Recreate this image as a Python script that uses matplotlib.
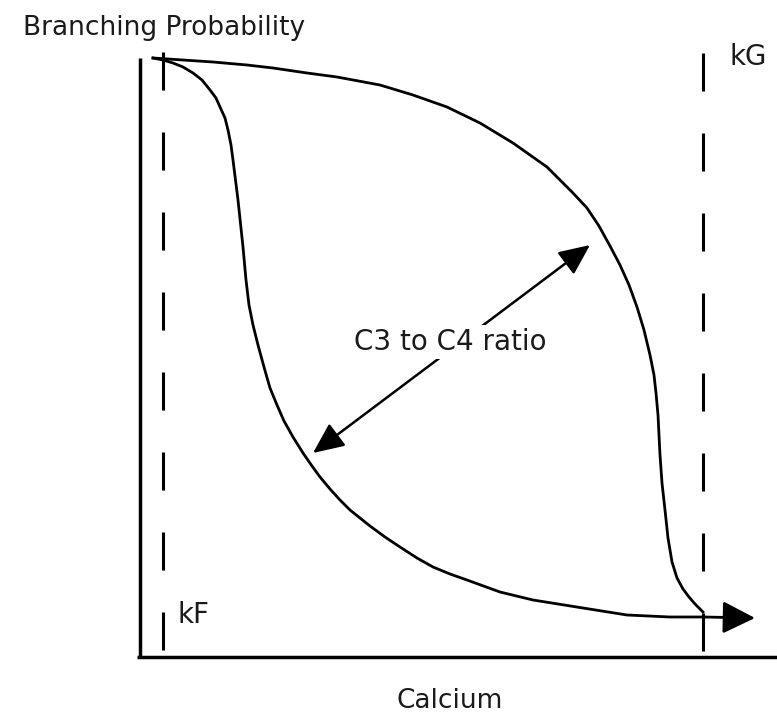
import numpy as np
import matplotlib
matplotlib.use('Agg')
import matplotlib.pyplot as plt

plt.rcParams['font.family'] = ['DejaVu Sans']
plt.rcParams['lines.scale_dashes'] = False

## pontos das duas curvas (coordenadas do desenho, y cresce para baixo)
upper_x = [153, 213, 247, 273, 307, 337, 380, 413, 447, 480, 513, 547, 573, 587,
           599, 610, 620, 629, 637, 644, 650, 654, 656, 658, 659, 660, 662, 665,
           668, 672, 677, 683, 689, 695, 703]
upper_y = [58, 62, 65, 68, 73, 77, 85, 95, 107, 123, 143, 167, 193, 208,
           226, 246, 265, 285, 307, 330, 355, 375, 393, 415, 435, 455, 483, 510,
           538, 562, 578, 589, 597, 604, 612]

lower_x = [153, 163, 173, 183, 193, 202, 210, 216, 220, 225, 228, 231, 233, 238,
           243, 246, 249, 253, 258, 264, 270, 277, 284, 293, 303, 312, 320, 330,
           340, 350, 360, 370, 385, 400, 417, 433, 450, 467, 500, 533, 583, 627,
           670, 703]
lower_y = [58, 60, 63, 67, 73, 80, 90, 98, 107, 118, 130, 145, 160, 200,
           247, 280, 305, 325, 345, 367, 388, 405, 421, 437, 453, 466, 477, 489,
           500, 510, 518, 526, 537, 547, 558, 567, 574, 580, 592, 600, 608, 615,
           617, 617]

## linhas tracejadas kF e kG
kF_x, kF_y = [163, 163], [52, 650]
kG_x, kG_y = [703, 703], [53, 657]

## eixos
yaxis_x, yaxis_y = [140, 140], [58, 657]
xaxis_x, xaxis_y = [137, 777], [657, 657]

## seta final e seta dupla
tail_start, tail_end = (703, 617), (755, 618)
ratio_a, ratio_b = (313, 453), (590, 245)

labels = {'ylabel': 'Branching Probability', 'xlabel': 'Calcium',
          'ratio': 'C3 to C4 ratio', 'kF': 'kF', 'kG': 'kG'}

fig = plt.figure(figsize=(7.77, 7.13), dpi=100)
ax = fig.add_axes([0, 0, 1, 1])
ax.set_xlim(0, 777)
ax.set_ylim(713, 0)
ax.axis('off')

ax.plot(yaxis_x, yaxis_y, color='k', lw=2.5, solid_capstyle='butt')
ax.plot(xaxis_x, xaxis_y, color='k', lw=2.5, solid_capstyle='butt')

for xs, ys in [(kF_x, kF_y), (kG_x, kG_y)]:
    ax.plot(xs, ys, color='k', lw=2.2, dashes=(27.4, 30.2))

ax.plot(upper_x, upper_y, color='k', lw=2.0, solid_joinstyle='round')
ax.plot(lower_x, lower_y, color='k', lw=2.0, solid_joinstyle='round')

ax.annotate('', xy=tail_end, xytext=tail_start,
            arrowprops=dict(arrowstyle='-|>,head_length=1.0,head_width=0.5',
                            mutation_scale=20, lw=2.0, color='k',
                            shrinkA=0, shrinkB=0))

ax.annotate('', xy=ratio_b, xytext=ratio_a,
            arrowprops=dict(arrowstyle='<|-|>,head_length=1.0,head_width=0.45',
                            mutation_scale=19, lw=1.8, color='k',
                            shrinkA=0, shrinkB=0))

fs = 20
tc = '#1a1a1a'
ax.text(450, 350, labels['ratio'], fontsize=fs, ha='center', va='baseline',
        color=tc, bbox=dict(boxstyle='square,pad=0.1', fc='white', ec='none'))
ax.text(305, 35, labels['ylabel'], fontsize=19, ha='right', va='baseline',
        color=tc)
ax.text(450, 708, labels['xlabel'], fontsize=19, ha='center', va='baseline',
        color=tc)
ax.text(178, 623, labels['kF'], fontsize=fs, ha='left', va='baseline',
        color=tc)
ax.text(730, 65, labels['kG'], fontsize=fs, ha='left', va='baseline',
        color=tc)

fig.savefig('out.png', dpi=100, facecolor='white')
